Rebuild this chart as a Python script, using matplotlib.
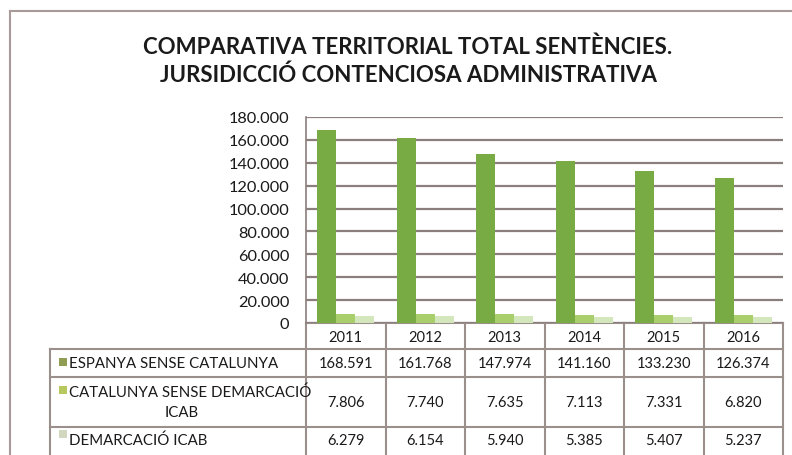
import numpy as np
import matplotlib.pyplot as plt
from matplotlib.lines import Line2D
from matplotlib.patches import Rectangle
import matplotlib.transforms as mtransforms

# data
years = ["2011", "2012", "2013", "2014", "2015", "2016"]
espanya = [168591, 161768, 147974, 141160, 133230, 126374]
catalunya = [7806, 7740, 7635, 7113, 7331, 6820]
icab = [6279, 6154, 5940, 5385, 5407, 5237]
series_names = ["ESPANYA SENSE CATALUNYA", "CATALUNYA SENSE DEMARCACIÓ\nICAB", "DEMARCACIÓ ICAB"]
colors = ["#79ab45", "#a9cf6c", "#d4e6bb"]
key_colors = ["#8f9e52", "#b7c95e", "#d2d8bf"]

plt.rcParams['font.family'] = ['Lato', 'DejaVu Sans']

W, H = 792, 456
fig = plt.figure(figsize=(W / 100, H / 100), dpi=100)

# helper: pixel box -> figure fraction
def px_axes(x0, y0, x1, y1):
    return [x0 / W, 1 - y1 / H, (x1 - x0) / W, (y1 - y0) / H]

# overlay in pixel coords for frame / table
over = fig.add_axes([0, 0, 1, 1])
over.set_xlim(0, W)
over.set_ylim(H, 0)
over.axis("off")

ax = fig.add_axes(px_axes(306, 118, 783, 324))
x = np.arange(len(years))
bw = 0.24
for i, vals in enumerate([espanya, catalunya, icab]):
    ax.bar(x + (i - 1) * bw, vals, width=bw, color=colors[i], zorder=3)
ax.set_xlim(-0.5, len(years) - 0.5)
ax.set_ylim(0, 180000)
ax.set_yticks(np.arange(0, 180001, 20000))
ax.set_yticklabels([f"{v:,}".replace(",", ".") for v in range(0, 180001, 20000)],
                   fontsize=11.8, color="#1a1a1a")
ax.set_xticks([])
ax.tick_params(axis="y", length=0, pad=12)
ax.grid(axis="y", color="#8a7f7c", linewidth=1.6, zorder=1)
for s in ["top", "right", "bottom"]:
    ax.spines[s].set_visible(False)
ax.spines["left"].set_color("#8a7f7c")
ax.spines["left"].set_linewidth(1.2)
ax.set_facecolor("none")

# outer chart frame
over.add_line(Line2D([10, 10], [12, H], color="#a89a98", lw=1.5))
over.add_line(Line2D([10, W], [12, 12], color="#a89a98", lw=1.5))

# title
over.text(408, 47, "COMPARATIVA TERRITORIAL TOTAL SENTÈNCIES.", ha="center", va="center",
          fontsize=16, fontweight="bold", color="#1a1a1a")
over.text(408, 75, "JURSIDICCIÓ CONTENCIOSA ADMINISTRATIVA", ha="center", va="center",
          fontsize=16, fontweight="bold", color="#1a1a1a")

# data table below the axis
lc = "#9b8f8c"
row_y = [324, 350, 378, 428, H + 2]
left, right = 50, 783
blend = mtransforms.blended_transform_factory(ax.transData, over.transData)
over.add_line(Line2D([306, right], [row_y[0], row_y[0]], color=lc, lw=1.5))
for yy in row_y[1:4]:
    over.add_line(Line2D([left, right], [yy, yy], color=lc, lw=1.5))
over.add_line(Line2D([left, left], [row_y[1], H], color=lc, lw=1.5))
for b in np.arange(len(years) + 1) - 0.5:
    over.add_line(Line2D([b, b], [row_y[0], H], color=lc, lw=1.5, transform=blend))

for j, yr in enumerate(years):
    over.text(j, (row_y[0] + row_y[1]) / 2 + 1, yr, transform=blend, ha="center", va="center",
              fontsize=10.5, color="#1a1a1a")

for i, vals in enumerate([espanya, catalunya, icab]):
    yc = (row_y[i + 1] + row_y[i + 2]) / 2 if i < 2 else 441
    for j, v in enumerate(vals):
        over.text(j, yc, f"{v:,}".replace(",", "."), transform=blend, ha="center", va="center",
                  fontsize=10.5, color="#1a1a1a")
    over.add_patch(Rectangle((59, (row_y[i + 1] + 14 if i < 2 else 436) - 5), 8, 8,
                             color=key_colors[i], lw=0))
    name = series_names[i]
    if "\n" in name:
        first, second = name.split("\n")
        over.text(69, row_y[i + 1] + 15, first, ha="left", va="center", fontsize=10.8, color="#1a1a1a")
        over.text(182, row_y[i + 1] + 35, second, ha="center", va="center", fontsize=10.8, color="#1a1a1a")
    else:
        over.text(69, yc, name, ha="left", va="center", fontsize=10.8, color="#1a1a1a")

fig.savefig("out.png", dpi=100)
